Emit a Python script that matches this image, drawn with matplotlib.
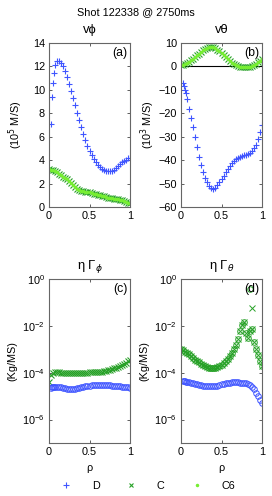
import matplotlib
matplotlib.use("Agg")
import matplotlib.pyplot as plt
from matplotlib.lines import Line2D
import numpy as np

plt.rcParams["font.family"] = ["Liberation Sans", "DejaVu Sans"]
plt.rcParams["font.size"] = 7.8

# radial grids
rho_d = [0.03, 0.04, 0.05, 0.06, 0.075,
         0.1, 0.125, 0.15, 0.175, 0.2, 0.225, 0.25, 0.275, 0.3, 0.325,
         0.35, 0.375, 0.4, 0.425, 0.45, 0.475, 0.5, 0.525, 0.55, 0.575,
         0.6, 0.625, 0.65, 0.675, 0.7, 0.725, 0.75, 0.775, 0.8, 0.825,
         0.85, 0.875, 0.9, 0.925, 0.95, 0.975, 1.0]
rho_c = [0.0, 0.025, 0.05, 0.075, 0.1, 0.125, 0.15, 0.175, 0.2, 0.225,
         0.25, 0.275, 0.3, 0.325, 0.35, 0.375, 0.4, 0.425, 0.45, 0.475,
         0.5, 0.525, 0.55, 0.575, 0.6, 0.625, 0.65, 0.675, 0.7, 0.725,
         0.75, 0.775, 0.8, 0.825, 0.85, 0.875, 0.9, 0.925, 0.95, 0.975, 1.0]

# (a) toroidal velocity, 1e5 m/s
vphi_d = [7.1, 9.4, 10.6, 11.4, 12.1,
          12.5, 12.5, 12.3, 12.0, 11.6, 11.1, 10.5, 9.9, 9.3, 8.7,
          8.0, 7.4, 6.8, 6.2, 5.7, 5.2, 4.8, 4.4, 4.1, 3.8,
          3.6, 3.4, 3.25, 3.15, 3.1, 3.05, 3.05, 3.1, 3.2, 3.35,
          3.5, 3.65, 3.8, 3.95, 4.05, 4.15, 4.2]
vphi_c = [3.25, 3.2, 3.15, 3.05, 2.95, 2.85, 2.75, 2.6, 2.5, 2.35,
          2.2, 2.05, 1.85, 1.7, 1.55, 1.45, 1.4, 1.35, 1.3, 1.28,
          1.25, 1.2, 1.15, 1.1, 1.05, 1.0, 0.95, 0.9, 0.85, 0.8,
          0.77, 0.73, 0.7, 0.68, 0.65, 0.62, 0.58, 0.52, 0.45, 0.38, 0.32]

# (b) poloidal velocity, 1e3 m/s
vth_d = [-7, -8.5, -10, -11.5, -14,
         -18, -22, -26, -30, -34.5, -38.5, -42, -45, -47.5, -49.5,
         -51, -52, -52.2, -51.8, -50.8, -49.5, -48, -46.6, -45.2, -43.8,
         -42.5, -41.4, -40.5, -39.7, -39.1, -38.6, -38.2, -37.9, -37.6, -37.2,
         -36.8, -36, -35, -33.5, -31, -28, -25]
vth_c = [0.5, 0.8, 1.1, 1.5, 2.0, 2.6, 3.3, 4.0, 4.8, 5.5,
         6.2, 6.9, 7.5, 7.9, 8.2, 8.3, 8.2, 7.8, 7.2, 6.5,
         5.7, 4.8, 3.9, 3.0, 2.2, 1.5, 0.9, 0.4, 0.1, -0.1,
         -0.3, -0.4, -0.4, -0.3, -0.1, 0.2, 0.6, 1.1, 1.7, 2.3, 3.0]

# (c) eta Gamma_phi, log10 kg/(m s)
gphi_d = [-4.65, -4.62, -4.6, -4.6, -4.6,
          -4.6, -4.62, -4.63, -4.65, -4.67, -4.68, -4.7, -4.7, -4.7, -4.69,
          -4.67, -4.65, -4.62, -4.6, -4.58, -4.56, -4.55, -4.54, -4.53, -4.52,
          -4.52, -4.52, -4.52, -4.52, -4.53, -4.53, -4.54, -4.55, -4.55, -4.56,
          -4.57, -4.58, -4.59, -4.6, -4.62, -4.63, -4.65]
gphi_c = [-4.4, -4.1, -4.0, -3.98, -3.98, -3.99, -4.0, -4.0, -4.01, -4.02,
          -4.03, -4.03, -4.03, -4.03, -4.02, -4.02, -4.01, -4.0, -4.0, -4.0,
          -3.99, -3.99, -3.98, -3.98, -3.97, -3.96, -3.95, -3.93, -3.92, -3.9,
          -3.88, -3.85, -3.82, -3.79, -3.75, -3.71, -3.67, -3.62, -3.57, -3.51, -3.45]

# (d) eta Gamma_theta, log10 kg/(m s)
gth_d = [-4.35, -4.36, -4.37, -4.38, -4.39,
         -4.4, -4.42, -4.45, -4.48, -4.5, -4.52, -4.53, -4.55, -4.56, -4.57,
         -4.58, -4.58, -4.58, -4.57, -4.55, -4.52, -4.5, -4.47, -4.45, -4.43,
         -4.42, -4.41, -4.41, -4.41, -4.41, -4.42, -4.42, -4.44, -4.45, -4.48,
         -4.52, -4.6, -4.7, -4.85, -5.0, -5.15, -5.3]
gth_c = [-3.0, -3.05, -3.1, -3.15, -3.22, -3.3, -3.37, -3.44, -3.5, -3.56,
         -3.62, -3.68, -3.73, -3.77, -3.8, -3.81, -3.8, -3.78, -3.75, -3.71,
         -3.66, -3.6, -3.5, -3.4, -3.28, -3.15, -3.0, -2.8, -2.55, -2.2,
         -1.95, -1.85, -2.3, -2.5, -2.2, -2.15, -2.7, -3.0, -3.25, -3.5, -3.7]
gth_c6_out_rho, gth_c6_out = [0.85], [-0.44]
gth_c_out_rho, gth_c_out = [0.88], [-1.25]

BLUE = "#3f55ff"
GREEN = "#27a127"
LIME = "#77ee33"

W, H = 272, 496
fig = plt.figure(figsize=(W / 100, H / 100), dpi=100)


def box(x0, x1, y_top, y_bot):
    return [x0 / W, 1 - y_bot / H, (x1 - x0) / W, (y_bot - y_top) / H]


ax_a = fig.add_axes(box(49, 130, 43, 207))
ax_b = fig.add_axes(box(181, 262, 43, 207))
ax_c = fig.add_axes(box(49, 130, 279, 443))
ax_d = fig.add_axes(box(181, 262, 279, 443))

ms_p, ms_x, ms_o = 5.0, 4.0, 4.0
# (a)
ax_a.plot(rho_c, vphi_c, "x", color=GREEN, ms=ms_x, mew=0.8)
ax_a.plot(rho_c, vphi_c, ".", color=LIME, ms=3)
ax_a.plot(rho_d, vphi_d, "+", color=BLUE, ms=ms_p, mew=0.8)
ax_a.set_ylim(0, 14)
ax_a.set_yticks([0, 2, 4, 6, 8, 10, 12, 14])
ax_a.set_title("v\u03d5", pad=7)
ax_a.set_ylabel("(10$^5$ M/S)")

# (b)
ax_b.axhline(0, color="black", lw=0.8)
ax_b.plot(rho_c, vth_c, "x", color=GREEN, ms=ms_x, mew=0.8)
ax_b.plot(rho_c, vth_c, ".", color=LIME, ms=3)
ax_b.plot(rho_d, vth_d, "+", color=BLUE, ms=ms_p, mew=0.8)
ax_b.set_ylim(-60, 10)
ax_b.set_yticks([-60, -50, -40, -30, -20, -10, 0, 10])
ax_b.set_title("v\u03b8", pad=7)
ax_b.set_ylabel("(10$^3$ M/S)")

# (c)
ax_c.semilogy(rho_c, 10 ** np.array(gphi_c), "x", color=GREEN, ms=ms_x, mew=0.8)
ax_c.semilogy(rho_d, 10 ** np.array(gphi_d), "o", mfc="none", color=BLUE, ms=ms_o, mew=0.7)
ax_c.set_title("\u03b7 \u0393$_\\phi$", pad=7)
ax_c.set_ylabel("(Kg/MS)")

# (d)
ax_d.semilogy(rho_c, 10 ** np.array(gth_c), "o", mfc="none", color=GREEN, ms=ms_o, mew=0.7)
ax_d.semilogy(rho_c, 10 ** np.array(gth_c), "x", color=GREEN, ms=ms_x, mew=0.7)
ax_d.semilogy(gth_c6_out_rho, 10 ** np.array(gth_c6_out), "o", mfc="none", color=GREEN, ms=ms_o, mew=0.7)
ax_d.semilogy(gth_c_out_rho, 10 ** np.array(gth_c_out), "x", color=GREEN, ms=ms_x, mew=0.7)
ax_d.semilogy(rho_d, 10 ** np.array(gth_d), "o", mfc="none", color=BLUE, ms=ms_o, mew=0.7)
ax_d.set_title("\u03b7 \u0393$_\\theta$", pad=7)
ax_d.set_ylabel("(Kg/MS)")

for ax in (ax_c, ax_d):
    ax.set_ylim(1e-7, 1)
    ax.set_yticks([1e-6, 1e-4, 1e-2, 1])
    ax.set_yticks([], minor=True)
    ax.set_xlabel("\u03c1", labelpad=4)

for ax, lab in zip((ax_a, ax_b, ax_c, ax_d), "abcd"):
    ax.set_xlim(0, 1)
    ax.set_xticks([0, 0.5, 1])
    ax.set_xticklabels(["0", "0.5", "1"])
    ax.tick_params(direction="in", length=2.5, width=0.6, top=True, right=True,
                   colors="#444444", labelcolor="black", pad=3)
    for s in ax.spines.values():
        s.set_color("#666666")
        s.set_linewidth(0.8)
    ax.yaxis.set_label_coords(-0.30 if lab in "ab" else -0.39, 0.5)
    ax.text(0.97, 0.975, f"({lab})", transform=ax.transAxes, ha="right", va="top",
            fontsize=8.8)

fig.text(0.5, 1 - 12 / H, "Shot 122338 @ 2750ms", ha="center", va="center")

handles = [
    Line2D([], [], ls="none", marker="+", color=BLUE, ms=4, mew=0.8),
    Line2D([], [], ls="none", marker="x", color=GREEN, ms=3.5, mew=0.8),
    Line2D([], [], ls="none", marker=".", color=LIME, ms=3),
]
fig.legend(handles, ["D", "C", "C6"], loc="center", bbox_to_anchor=(0.54, 1 - 486 / H),
           ncol=3, frameon=False, handletextpad=1.6, columnspacing=2.2, handlelength=1.5)

fig.savefig("out.png", dpi=100)
